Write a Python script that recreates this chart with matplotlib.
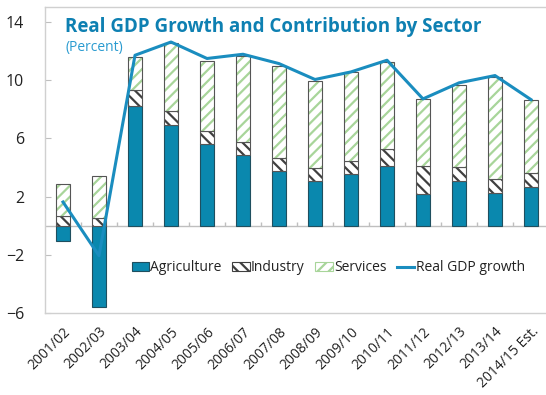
import numpy as np
import matplotlib
matplotlib.use("Agg")
import matplotlib.pyplot as plt
from matplotlib.patches import Patch
from matplotlib.lines import Line2D

plt.rcParams['font.family'] = ['Open Sans', 'DejaVu Sans']
plt.rcParams['hatch.linewidth'] = 1.6

years = ["2001/02", "2002/03", "2003/04", "2004/05", "2005/06", "2006/07", "2007/08",
         "2008/09", "2009/10", "2010/11", "2011/12", "2012/13", "2013/14", "2014/15 Est."]
agriculture = [-1.02, -5.59, 8.24, 6.91, 5.61, 4.84, 3.74, 3.07, 3.58, 4.13, 2.21, 3.07, 2.28, 2.69]
industry = [0.70, 0.56, 1.10, 0.99, 0.92, 0.89, 0.89, 0.92, 0.89, 1.16, 1.87, 0.99, 0.96, 0.96]
services = [2.17, 2.88, 2.24, 4.66, 4.80, 5.92, 6.33, 5.92, 6.04, 5.95, 4.62, 5.62, 6.99, 4.96]
gdp_growth = [1.63, -2.05, 11.69, 12.6, 11.47, 11.76, 11.12, 10.03, 10.55, 11.35, 8.70, 9.8, 10.3, 8.65]

agri_color = "#0A88AE"
line_color = "#1A8DBF"
title_color = "#0E80B2"
services_hatch = "#A8D59A"
industry_hatch = "#3F3F3F"
outline = "#555555"

x = np.arange(len(years))
agri = np.array(agriculture)
ind = np.array(industry)
serv = np.array(services)
# positive sector contributions stack from zero, agriculture may go negative
pos_base = np.where(agri > 0, agri, 0)
ind_base = pos_base
serv_base = pos_base + ind

fig = plt.figure(figsize=(5.46, 3.95), dpi=100)
ax = fig.add_axes([45 / 546, 81.7 / 395, 504 / 546, 306.3 / 395])

w = 0.4
ax.bar(x, agri, w, color=agri_color, edgecolor="#1f4f5f", linewidth=0.8, zorder=2)
ax.bar(x, ind, w, bottom=ind_base, color="white", edgecolor=industry_hatch,
       hatch="\\\\\\", linewidth=0, zorder=2)
ax.bar(x, ind, w, bottom=ind_base, fill=False, edgecolor=outline, linewidth=0.8, zorder=2)
ax.bar(x, serv, w, bottom=serv_base, color="white", edgecolor=services_hatch,
       hatch="///", linewidth=0, zorder=2)
ax.bar(x, serv, w, bottom=serv_base, fill=False, edgecolor=outline, linewidth=0.8, zorder=2)

ax.plot(x, gdp_growth, color=line_color, linewidth=2.2, zorder=3)

# zero line with category tick marks
ax.axhline(0, color="#BFBFBF", linewidth=1.0, zorder=1)
ax.vlines(x[:-1] + 0.5, 0, 0.27, color="#BFBFBF", linewidth=1.0, zorder=1)

ax.set_xlim(-0.5, 13.5)
ax.set_ylim(-6, 15)
ax.set_yticks([-6, -2, 2, 6, 10, 14])
ax.set_xticks(x)
ax.set_xticklabels(years, rotation=45, ha="right", va="top", rotation_mode="anchor",
                   fontsize=10, color="#222222")
ax.tick_params(axis="x", length=0, pad=8)
ax.tick_params(axis="y", direction="in", length=4, color="#BFBFBF", pad=15,
               labelsize=11.5, labelcolor="#222222")
for s in ["left", "top", "bottom"]:
    ax.spines[s].set_color("#D0D0D0")
    ax.spines[s].set_linewidth(1.0)
ax.spines["right"].set_visible(False)

handles = [
    Patch(facecolor=agri_color, edgecolor="#1f4f5f", linewidth=0.8),
    Patch(facecolor="white", edgecolor=industry_hatch, hatch="\\\\\\", linewidth=0.8),
    Patch(facecolor="white", edgecolor=services_hatch, hatch="///", linewidth=0.8),
    Line2D([0], [0], color=line_color, linewidth=2.2),
]
ax.legend(handles, ["Agriculture", "Industry", "Services", "Real GDP growth"],
          loc="center", bbox_to_anchor=(0.562, 0.148), ncol=4, frameon=False,
          fontsize=10, handlelength=1.25, handleheight=0.6, handletextpad=0.1,
          columnspacing=0.75, labelcolor="#222222")

fig.text(65 / 546, 1 - 31.7 / 395, "Real GDP Growth and Contribution by Sector",
         fontsize=13.5, fontweight="bold", color=title_color, va="baseline", ha="left")
fig.text(65 / 546, 1 - 48 / 395, "(Percent)", fontsize=10, color="#2A9BD0",
         va="center", ha="left")

fig.savefig("out.png", dpi=100)
